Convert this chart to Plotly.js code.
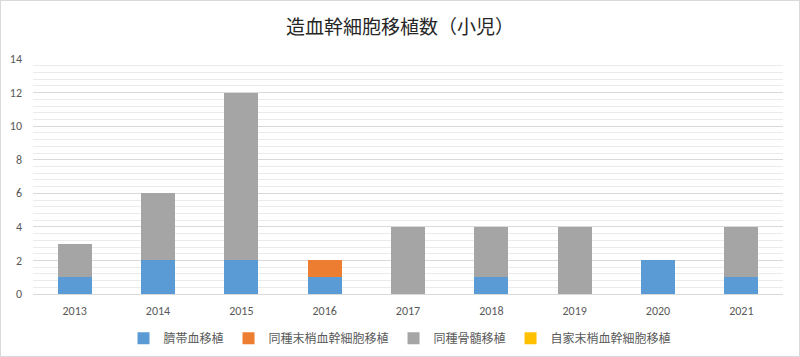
<!DOCTYPE html>
<html>
<head>
<meta charset="utf-8">
<script src="https://cdn.plot.ly/plotly-3.0.1.min.js"></script>
<style>
html,body{margin:0;padding:0;background:#fff;}
#chart{width:800px;height:357px;box-sizing:border-box;border:1px solid #d9d9d9;}
</style>
</head>
<body>
<div id="chart"></div>
<script>
const years = ['2013','2014','2015','2016','2017','2018','2019','2020','2021'];
const cordBlood = [1,2,2,1,0,1,0,2,1];
const alloPBSCT = [0,0,0,1,0,0,0,0,0];
const alloBMT = [2,4,10,0,4,3,4,0,3];
const autoPBSCT = [0,0,0,0,0,0,0,0,0];
const seriesNames = ['臍帯血移植','同種末梢血幹細胞移植','同種骨髄移植','自家末梢血幹細胞移植'];
const yTicks = [0,2,4,6,8,10,12,14];

const colors = ['#5b9bd5','#ed7d31','#a5a5a5','#ffc000'];
const series = [cordBlood, alloPBSCT, alloBMT, autoPBSCT];
const font = 'Carlito, Calibri, "Noto Sans CJK JP", "Liberation Sans", sans-serif';

const data = series.map((vals, i) => ({
  type: 'bar',
  name: seriesNames[i],
  x: years,
  y: vals,
  marker: {color: colors[i], line: {width: 0}},
  hoverinfo: 'x+y+name'
}));

const layout = {
  width: 798, height: 355,
  barmode: 'stack',
  bargap: 0.59,
  paper_bgcolor: '#fff',
  plot_bgcolor: '#fff',
  margin: {l: 32, r: 16, t: 58, b: 62},
  title: {text: '造血幹細胞移植数（小児）', font: {family: '"Noto Sans CJK JP", sans-serif', size: 19, color: '#262626'}, x: 0.5, xanchor: 'center', y: 0.925, yanchor: 'middle'},
  font: {family: font, color: '#595959', size: 12},
  xaxis: {
    type: 'category',
    showgrid: false,
    showline: true, linecolor: '#d9d9d9', linewidth: 1,
    ticks: '', tickfont: {size: 12, color: '#595959'},
    ticklabelstandoff: 6,
    automargin: false,
    fixedrange: true
  },
  yaxis: {
    range: [0, 14],
    tickvals: yTicks,
    ticktext: yTicks.map(String),
    showgrid: true, gridcolor: '#d9d9d9', gridwidth: 1,
    zeroline: false,
    minor: {dtick: 0.4, tick0: 0, showgrid: true, gridcolor: '#ebebeb', gridwidth: 1, ticks: ''},
    ticks: '', tickfont: {size: 12, color: '#595959'},
    ticklabelstandoff: 10,
    automargin: false,
    fixedrange: true
  },
  legend: {
    orientation: 'h', x: 0.5, xanchor: 'center', xref: 'container',
    y: 0.05, yanchor: 'middle', yref: 'container',
    font: {family: '"Noto Sans CJK JP", sans-serif', size: 12, color: '#595959'},
    traceorder: 'normal', itemwidth: 30
  },
  showlegend: true
};

Plotly.newPlot('chart', data, layout, {displayModeBar: false, staticPlot: true});
</script>
</body>
</html>
